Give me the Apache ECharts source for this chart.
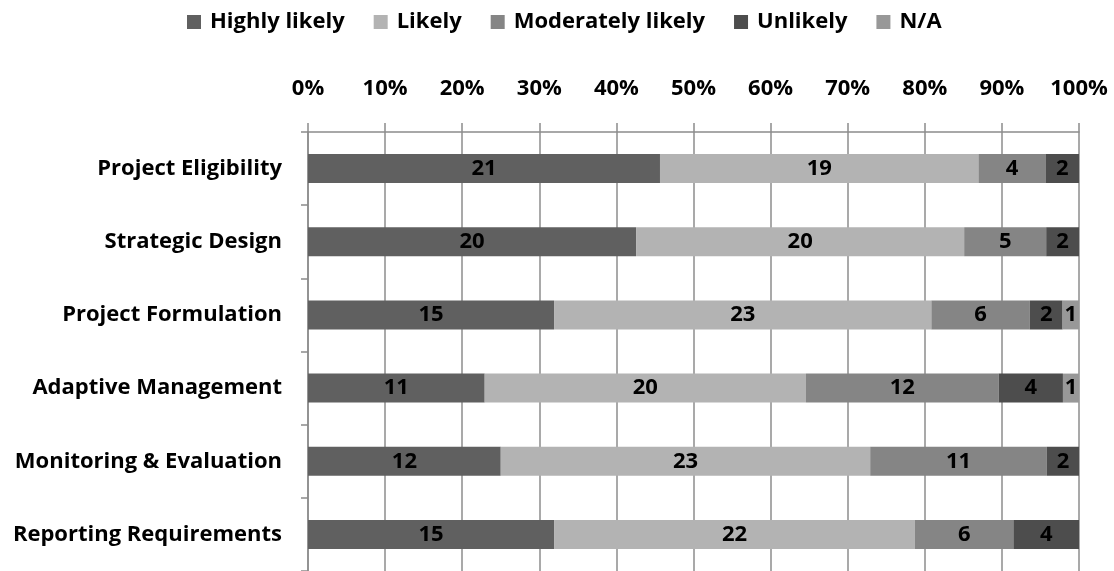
<!DOCTYPE html>
<html>
<head>
<meta charset="utf-8">
<script src="https://cdn.jsdelivr.net/npm/echarts@6/dist/echarts.min.js"></script>
<style>
  html, body { margin: 0; padding: 0; background: #ffffff; }
  #chart { width: 1114px; height: 571px; }
</style>
</head>
<body>
<div id="chart"></div>
<script>
// Response counts per planning area
const categories = [
  'Project Eligibility',
  'Strategic Design',
  'Project Formulation',
  'Adaptive Management',
  'Monitoring & Evaluation',
  'Reporting Requirements'
];
const highlyLikely     = [21, 20, 15, 11, 12, 15];
const likely           = [19, 20, 23, 20, 23, 22];
const moderatelyLikely = [4, 5, 6, 12, 11, 6];
const unlikely         = [2, 2, 2, 4, 2, 4];
const notApplicable    = [0, 0, 1, 1, 0, 0];
const xTicks = [0, 10, 20, 30, 40, 50, 60, 70, 80, 90, 100];

const seriesDefs = [
  { name: 'Highly likely',     data: highlyLikely,     color: '#606060' },
  { name: 'Likely',            data: likely,           color: '#b3b3b3' },
  { name: 'Moderately likely', data: moderatelyLikely, color: '#858585' },
  { name: 'Unlikely',          data: unlikely,         color: '#4d4d4d' },
  { name: 'N/A',               data: notApplicable,    color: '#989898' }
];

// Row totals used to turn counts into 100% stacked shares
const totals = categories.map((_, i) =>
  seriesDefs.reduce((s, d) => s + d.data[i], 0));

const FONT = 'Open Sans';
const SIZE = 22;

const chart = echarts.init(document.getElementById('chart'));
chart.setOption({
  animation: false,
  backgroundColor: '#ffffff',
  textStyle: { fontFamily: FONT },
  legend: {
    top: 6,
    left: 182,
    icon: 'rect',
    itemWidth: 14,
    itemHeight: 14,
    itemGap: 29,
    textStyle: {
      fontFamily: FONT, fontWeight: 'bold', fontSize: SIZE, color: '#000',
      padding: [0, 0, 0, 4]
    },
    data: seriesDefs.map(d => d.name)
  },
  grid: { left: 308, right: 35, top: 132, bottom: 0, containLabel: false },
  xAxis: {
    type: 'value',
    position: 'top',
    min: xTicks[0],
    max: xTicks[xTicks.length - 1],
    interval: xTicks[1] - xTicks[0],
    axisLine: { show: true, lineStyle: { color: '#8c8c8c', width: 1.5 } },
    axisTick: { show: true, inside: false, length: 9, lineStyle: { color: '#8c8c8c', width: 1.5 } },
    axisLabel: {
      margin: 32,
      fontFamily: FONT, fontWeight: 'bold', fontSize: SIZE, color: '#000',
      formatter: v => v + '%'
    },
    splitLine: { show: true, lineStyle: { color: '#8c8c8c', width: 1.5 } }
  },
  yAxis: {
    type: 'category',
    inverse: true,
    data: categories,
    axisLine: { show: true, lineStyle: { color: '#8c8c8c', width: 1.5 } },
    axisTick: { show: true, length: 7, lineStyle: { color: '#8c8c8c', width: 1.5 } },
    axisLabel: {
      margin: 26,
      fontFamily: FONT, fontWeight: 'bold', fontSize: SIZE, color: '#000'
    },
    splitLine: { show: false }
  },
  series: seriesDefs.map(d => ({
    name: d.name,
    type: 'bar',
    stack: 'total',
    barWidth: 29,
    itemStyle: { color: d.color },
    label: {
      show: true,
      position: 'inside',
      fontFamily: FONT, fontWeight: 'bold', fontSize: SIZE, color: '#000',
      formatter: p => d.data[p.dataIndex] > 0 ? String(d.data[p.dataIndex]) : ''
    },
    data: d.data.map((v, i) => v > 0 ? v / totals[i] * 100 : null)
  }))
});
</script>
</body>
</html>
